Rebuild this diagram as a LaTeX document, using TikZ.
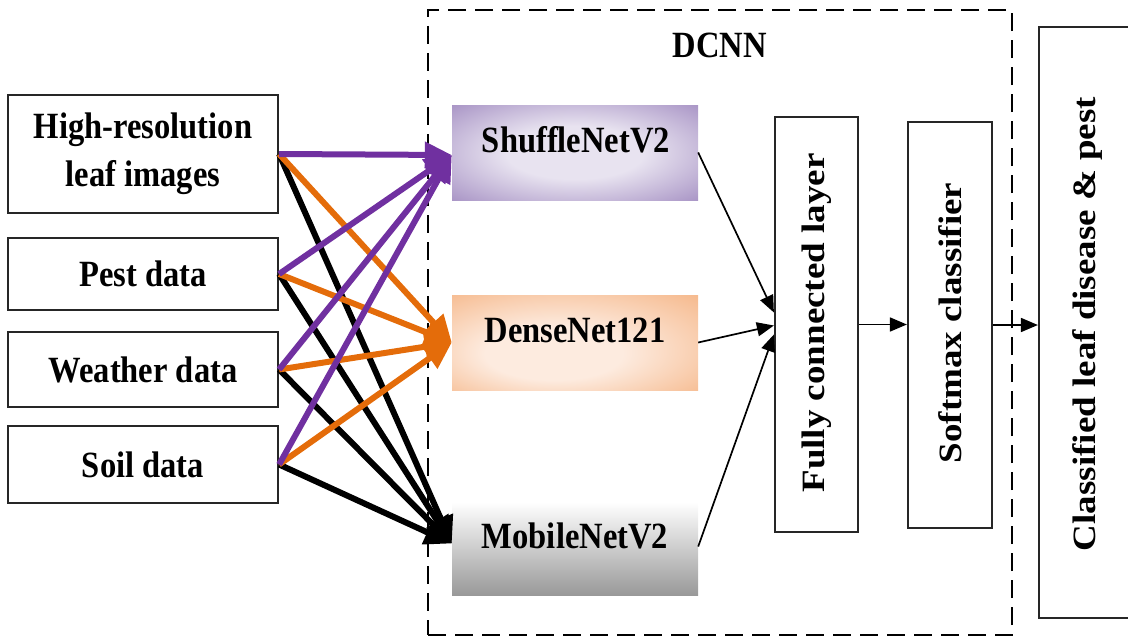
\documentclass[tikz,border=0pt]{standalone}
\usepackage{fontspec}
\setmainfont{Liberation Serif}
\newfontfamily\nbf[FakeStretch=0.88]{Liberation Serif}
\usetikzlibrary{arrows.meta,calc}
\definecolor{arrpurple}{HTML}{7030A0}
\definecolor{arrorange}{HTML}{E46C0A}
\definecolor{shufin}{HTML}{E8E3F0}
\definecolor{shufout}{HTML}{A590C3}
\definecolor{densin}{HTML}{FDEBDF}
\definecolor{densout}{HTML}{F5B586}
\definecolor{mobbot}{HTML}{999999}
\definecolor{mobmid}{HTML}{DADADA}
\pgfdeclareradialshading{shufshade}{\pgfpoint{0bp}{0bp}}{color(0bp)=(shufin); color(14bp)=(shufin); color(37bp)=(shufout); color(50bp)=(shufout)}
\pgfdeclareradialshading{densshade}{\pgfpoint{-6bp}{-8bp}}{color(0bp)=(densin); color(14bp)=(densin); color(40bp)=(densout); color(50bp)=(densout)}
\begin{document}
\begin{tikzpicture}[x=1pt,y=-1pt,
  txt/.style={font=\nbf\bfseries\fontsize{37}{48}\selectfont, align=center, inner sep=0pt},
  rtxt/.style={rotate=90, inner sep=0pt},
  inbox/.style={draw=black!85, line width=2.2pt, rectangle, inner sep=0pt, minimum width=270pt},
  modbox/.style={rectangle, inner sep=0pt, minimum width=246pt},
  layerbox/.style={draw=black!85, line width=2.2pt, rectangle, inner sep=0pt},
  fat/.style={line width=6pt, -{Triangle[length=27pt,width=25pt]}},
  conn/.style={line width=1.7pt, black, -{Triangle[length=17pt,width=14pt]}}
]
\useasboundingbox (0,0) rectangle (1128,637);
\clip (0,0) rectangle (1128,637);

% DCNN frame
\node[draw=black, line width=2pt, dash pattern=on 18pt off 9pt, minimum width=584pt, minimum height=625pt, inner sep=0pt] (dcnn) at (720,322.5) {};
\node[txt] (dcnnT) at (720,45) {DCNN};

% inputs
\node[inbox, minimum height=118pt, txt] (in1) at (143,154) {High-resolution\\leaf images};
\node[inbox, minimum height=72pt, txt] (in2) at (143,274) {Pest data};
\node[inbox, minimum height=75pt, txt] (in3) at (143,369.5) {Weather data};
\node[inbox, minimum height=77pt, txt] (in4) at (143,464.5) {Soil data};

% models
\node[modbox, minimum height=95pt, shading=shufshade] (shuffle) at (575,152.5) {};
\node[modbox, minimum height=95pt, shading=densshade] (dense) at (575,342.5) {};
\node[modbox, minimum height=93pt, top color=white, middle color=mobmid, bottom color=mobbot] (mobile) at (575,548.5) {};
\node[txt] (shuffleT) at (576,140) {ShuffleNetV2};
\node[txt] (denseT) at (575,330) {DenseNet121};
\node[txt] (mobileT) at (575,536) {MobileNetV2};

% layers
\node[layerbox, minimum width=83pt, minimum height=415pt] (fc) at (816.5,324.5) {};
\node[layerbox, minimum width=84pt, minimum height=406pt] (soft) at (950,325) {};
\node[layerbox, minimum width=99pt, minimum height=591pt] (cls) at (1088.5,322.5) {};
\node[rtxt] (fcT) at (817,323) {\scalebox{1}[0.88]{\bfseries\fontsize{37}{46}\selectfont Fully connected layer}};
\node[rtxt] (softT) at (950,323) {\scalebox{1}[0.88]{\bfseries\fontsize{37}{46}\selectfont Softmax classifier}};
\node[rtxt] (clsT) at (1087,324) {\scalebox{1}[0.88]{\bfseries\fontsize{37}{46}\selectfont Classified leaf disease \& pest}};

% input arrows
\foreach \s in {in1,in2,in3,in4}
  \draw[fat, black] (\s.east) -- ([yshift=5pt]mobile.west);
\foreach \s in {in1,in2,in3,in4}
  \draw[fat, arrorange] (\s.east) -- (dense.west);
\foreach \s in {in1,in2,in3,in4}
  \draw[fat, arrpurple] (\s.east) -- ([yshift=-2.5pt]shuffle.west);

% model to fc
\draw[conn] (shuffle.east) -- ([yshift=12pt]fc.west);
\draw[conn] (dense.east) -- ([yshift=-1pt]fc.west);
\draw[conn] ([yshift=2pt]mobile.east) -- ([yshift=-10pt]fc.west);
\draw[conn] (fc.east) -- (fc.east -| soft.west);
\draw[conn] (soft.east) -- (soft.east -| cls.west);
\end{tikzpicture}
\end{document}
